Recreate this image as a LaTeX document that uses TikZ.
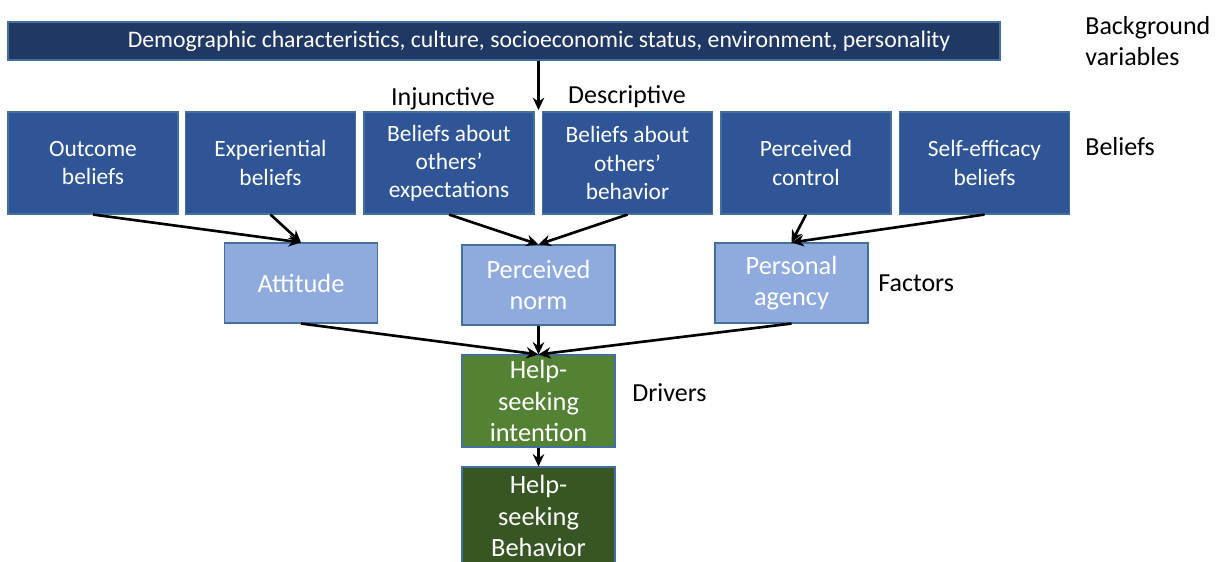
\documentclass[tikz,border=0pt]{standalone}
\usepackage{fontspec}
\setmainfont{Carlito}
\usetikzlibrary{arrows.meta}

\definecolor{navy}{HTML}{203864}
\definecolor{beliefblue}{HTML}{2F5597}
\definecolor{factorblue}{HTML}{8FAADC}
\definecolor{edgeblue}{HTML}{41719C}
\definecolor{drivergreen}{HTML}{548235}
\definecolor{behaviorgreen}{HTML}{375623}

\begin{document}
\begin{tikzpicture}[>={Stealth[length=7pt,width=6.5pt]}]
    \tikzstyle{box}=[draw=edgeblue,line width=0.6pt,text=white,align=center,inner sep=0pt]
    \tikzstyle{belief}=[box,fill=beliefblue,minimum width=3.4cm,minimum height=2.04cm,font=\fontsize{13.3}{16}\selectfont]
    \tikzstyle{factor}=[box,fill=factorblue,minimum width=3.06cm,minimum height=1.6cm,font=\fontsize{15}{17.5}\selectfont]
    \tikzstyle{driver}=[box,minimum width=3.06cm,font=\fontsize{15}{18}\selectfont]
    \tikzstyle{level}=[anchor=west,align=left,inner sep=0pt,font=\fontsize{14.8}{18}\selectfont]
    \tikzstyle{link}=[->,line width=1.5pt]
    \useasboundingbox (0,0) rectangle (24.46,-11.22);

    % background variables (text sits a bit right of the bar's middle)
    \node[box,fill=navy,minimum width=19.84cm,minimum height=0.76cm,font=\fontsize{13.5}{16}\selectfont] (bar) at (10.08,-0.82)
        {\hspace*{1.4cm}Demographic characteristics, culture, socioeconomic status, environment, personality};

    % beliefs
    \foreach \name/\x/\txt in {b1/1.86/{Outcome\\beliefs}, b2/5.41/{Experiential\\beliefs},
            b3/8.98/{Beliefs about\\others'\\expectations}, b4/12.55/{Beliefs about\\others'\\behavior},
            b5/16.12/{Perceived\\control}, b6/19.69/{Self-efficacy\\beliefs}}
        \node[belief] (\name) at (\x,-3.26) {\txt};

    \node[font=\fontsize{14.8}{18}\selectfont] (inj) at (8.86,-1.98) {Injunctive};
    \node[font=\fontsize{14.8}{18}\selectfont] (desc) at (12.54,-1.94) {Descriptive};

    % factors
    \node[factor] (att) at (6.02,-5.66) {Attitude};
    \node[factor] (norm) at (10.77,-5.70) {Perceived\\norm};
    \node[factor] (agency) at (15.83,-5.66) {Personal\\agency};

    % drivers
    \node[driver,fill=drivergreen,minimum height=1.84cm] (int) at (10.77,-8.02) {Help-\\seeking\\intention};
    \node[driver,fill=behaviorgreen,minimum height=1.96cm] (beh) at (10.77,-10.32) {Help-\\seeking\\Behavior};

    % row labels
    \node[level] (lbg) at (21.7,-0.82) {Background\\variables};
    \node[level] (lbel) at (21.7,-2.94) {Beliefs};
    \node[level] (lfac) at (17.56,-5.66) {Factors};
    \node[level] (ldrv) at (12.64,-7.86) {Drivers};

    \coordinate (gap) at (10.77,-2.2);
    \draw[link] (gap |- bar.south) -- (gap);

    \foreach \from/\to in {b1/att, b2/att, b3/norm, b4/norm, b5/agency, b6/agency, att/int, norm/int, agency/int, int/beh}
        \draw[link] (\from.south) -- (\to.north);
\end{tikzpicture}
\end{document}
